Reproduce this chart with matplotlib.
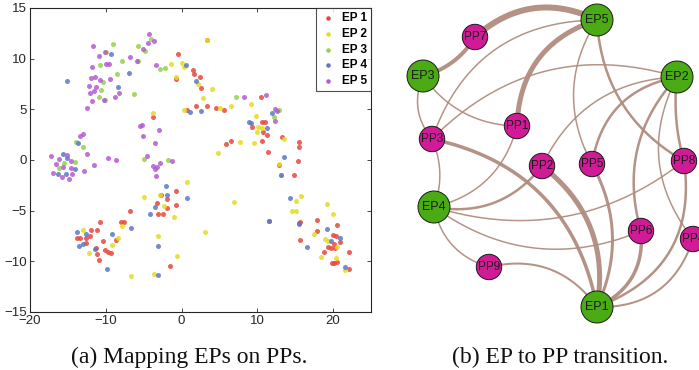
"""Two-panel figure: EP scatter on PP map (a) and EP->PP transition graph (b)."""

import matplotlib
matplotlib.use("Agg")
import matplotlib.pyplot as plt
from matplotlib.patches import Circle
import numpy as np

# ---- panel (a): points per EP ----
ep1_x = [-0.53, -0.79, 1.54, 1.63, 2.42, 2.55, 1.89, 3.3, 4.53, 5.58, 0.66, 10.46, 9.36, 10.55,
         10.99, 10.77, 11.34, 10.64, 11.43, 13.27, 15.52, 15.56, 15.43, 14.9, 12.88, 6.59, 5.85,
         15.47, 15.69, 15.69, 11.56, 17.89, 17.85, 18.77, 19.34, 19.69, 20.13, 20.0, 20.44, 20.53,
         20.22, 20.88, 19.87, 20.18, 20.53, 22.11, 22.11, -3.3, -0.79, -0.79, -2.73, -1.98, -3.08,
         -2.5, -1.98, -3.82, -6.81, -8.04, -7.6, -8.62, -10.77, -11.21, -11.96, -12.09, -12.62,
         -13.41, -13.8, -12.62, -10.42, -11.34, -11.21, -10.9, -10.11, -9.76, -9.36, -1.54, 3.3]
ep1_y = [10.42, 7.98, 8.93, 8.5, 8.18, 7.09, 5.31, 5.34, 5.18, 4.98, 4.95, 6.23, 3.23, 3.76,
         3.76, 2.74, 2.5, 1.85, 0.79, 2.24, 1.78, 1.32, -0.07, -1.52, -0.53, 1.88, 1.58,
         -6.23, -6.07, -7.91, -6.0, -5.9, -6.96, -9.03, -8.57, -8.64, -8.31, -7.39, -7.48, -6.43,
         -8.64, -8.14, -10.12, -10.19, -10.02, -9.03, -10.72, -4.29, -3.1, -4.42, -3.49, -3.82, -5.34,
         -5.34, -4.71, 4.29, -5.04, -6.1, -6.1, -7.88, -6.1, -6.86, -6.86, -7.52, -7.72,
         -7.72, -7.65, -8.21, -7.98, -8.7, -9.3, -9.83, -8.9, -9.03, -9.2, -10.45, 11.87]

ep2_x = [3.3, 0.0, 0.35, -0.79, -1.41, 2.15, 3.96, 2.86, 0.35, 5.05, 6.59, 9.1, 9.89, 10.15,
         10.64, 10.02, 7.69, 9.58, 13.54, 4.84, 12.88, 0.66, 6.95, 3.12, 15.74, 15.16, 14.64,
         15.16, 19.21, 20.0, 17.49, 18.99, 19.3, 20.57, 20.44, 18.37, 21.58, -4.92, -2.86, -2.29,
         -0.97, -0.57, -3.12, -3.6, -6.73, -3.74, -7.82, -8.44, -9.23, -12.97, -12.26]
ep2_y = [11.87, 9.59, 9.17, 8.24, 9.46, 7.52, 7.02, 6.13, 4.95, 5.11, 5.31, 5.51, 4.39, 3.3,
         3.17, 2.8, 1.75, 1.68, 2.08, 0.73, -0.4, -2.14, -4.12, -7.06, -3.56, -4.02, -5.08,
         -5.08, -4.35, -5.37, -7.32, -7.75, -8.04, -8.54, -9.66, -9.56, -10.81, -3.69, -3.49, -4.58,
         -5.67, -9.46, -7.48, -11.21, -11.47, 4.65, -6.5, -7.68, -8.41, -6.86, -9.17]

ep3_x = [-9.01, -5.8, -4.09, -4.79, -5.71, -10.81, -9.93, -7.87, -8.48, -10.33, -10.64, -10.9,
         -10.07, -6.29, -2.86, -2.2, 7.21, 12.22, 12.88, -13.98, -12.97, -14.07, -15.52, -16.13,
         -4.97, -1.76, 13.1]
ep3_y = [11.41, 11.24, 11.9, 10.72, 9.76, 9.33, 10.65, 9.76, 8.44, 7.68, 6.86, 6.26,
         5.93, 6.53, 9.0, 9.07, 6.2, 4.29, 4.91, 1.75, 1.25, -0.2, -0.33, -0.82,
         0.13, 0.03, -1.45]

ep4_x = [-15.08, -9.36, -6.95, -8.35, 0.53, 1.93, 1.1, 2.55, 8.92, 9.14, 11.34, 11.91, 13.54,
         13.1, 14.29, 15.47, 16.53, 11.56, 19.21, 19.74, 20.88, 21.63, -2.07, -1.98, 0.75, -3.56,
         -4.13, -3.16, -3.16, -6.68, -9.14, -9.89, -13.85, -13.54, -12.97, -12.62, -11.43, -13.67,
         -15.69, -15.08, -16.35, -15.3, -14.07]
ep4_y = [7.81, 10.45, 8.61, 7.19, 9.4, 7.75, 4.78, 4.88, 3.79, 3.63, 3.17, 4.62, 0.33,
         -1.52, -3.79, -6.33, -8.54, -6.0, -6.79, -8.04, -7.68, -10.52, -2.57, -3.43, -3.76, -4.68,
         -5.34, -8.47, -11.37, -6.73, -7.32, -10.75, -7.06, -8.51, -8.31, -7.32, -8.74, 1.68,
         0.59, 0.2, -1.38, -1.38, -0.92]

ep5_x = [-11.65, -10.95, -11.78, -11.96, -11.43, -12.18, -11.3, -11.52, -12.09, -11.82, -12.44,
         -10.77, -10.07, -9.98, -9.63, -9.45, -10.2, -8.75, -8.22, -6.77, -5.93, -5.1, -4.35, -4.4,
         -3.69, -3.34, 8.26, 11.08, 12.35, 12.62, 12.35, -5.49, -5.27, -5.14, -3.52, -2.99, -4.62,
         -3.82, -3.52, -3.21, -3.43, -2.86, -1.27, -13.41, -13.01, -12.48, -12.88, -11.56, -9.76,
         -8.7, -17.27, -16.57, -16.13, -16.92, -15.78, -15.69, -15.16, -14.86, -14.55, -14.51, -14.59]
ep5_y = [11.24, 10.22, 9.17, 8.08, 8.18, 7.32, 7.22, 6.79, 6.66, 5.8, 5.14,
         7.85, 10.65, 9.5, 9.5, 8.01, 5.9, 6.26, 6.59, 10.16, 9.73, 10.91, 12.4, 11.54,
         11.7, 9.33, 6.2, 6.46, 5.01, 4.81, 3.89, 3.36, 3.49, 2.41, 1.65, 3.0, 0.43,
         -0.59, -0.86, -0.73, -1.58, -0.26, -0.07, 2.41, 2.54, 0.59, -1.12, -0.49, 0.2,
         0.0, 0.43, -0.4, 0.13, -1.25, -1.71, -0.73, 0.53, -1.88, -0.82, -1.42, -0.07]

ep_labels = ["EP 1", "EP 2", "EP 3", "EP 4", "EP 5"]
ep_colors = ["#e8463c", "#e4dc22", "#94d04a", "#5a78c8", "#b45ad2"]

# ---- panel (b): graph nodes (pixel-like layout units) and weighted edges ----
node_names = ["EP1", "EP2", "EP3", "EP4", "EP5",
              "PP1", "PP2", "PP3", "PP4", "PP5", "PP6", "PP7", "PP8", "PP9"]
node_x = [597, 677, 423, 434, 597, 517, 542, 432, 693, 592, 641, 475, 684, 489]
node_y = [307, 77, 76, 207, 20, 126, 166, 139, 239, 164, 231, 37, 161, 267]

# (from, to, weight, bend)
edges = [
    ("EP3", "PP7", 4.0, 0.2), ("PP7", "EP5", 6.0, -0.33), ("EP5", "PP1", 5.0, 0.35),
    ("EP5", "PP3", 1.5, 0.35), ("EP5", "PP5", 1.5, 0.29), ("EP5", "PP8", 2.5, 0.27),
    ("EP3", "PP1", 1.5, 0.25), ("EP3", "PP3", 1.5, 0.3), ("EP2", "PP3", 1.5, 0.3),
    ("EP2", "PP2", 1.5, 0.3), ("EP2", "PP5", 2.5, 0.35), ("EP2", "PP6", 2.5, 0.28),
    ("EP2", "PP8", 2.5, 0.1), ("EP2", "PP4", 1.5, 0.32), ("EP4", "PP1", 1.5, 0.3),
    ("EP4", "PP2", 2.5, 0.3), ("EP4", "PP8", 1.5, 0.26), ("EP4", "PP6", 1.5, 0.28),
    ("EP4", "PP9", 1.5, 0.3), ("PP3", "EP4", 1.5, -0.2), ("PP3", "EP1", 3.5, -0.33),
    ("PP2", "EP1", 5.0, -0.3), ("PP5", "EP1", 3.0, -0.25), ("PP6", "EP1", 3.5, -0.35),
    ("PP8", "EP1", 2.5, -0.4), ("PP4", "EP1", 2.0, -0.37), ("PP9", "EP1", 2.0, -0.33),
]

fig = plt.figure(figsize=(6.99, 3.70), dpi=100)

# ---------- (a) scatter ----------
ax = fig.add_axes([30 / 699, 58 / 370, 341 / 699, 304 / 370])
series = [(ep1_x, ep1_y), (ep2_x, ep2_y), (ep3_x, ep3_y), (ep4_x, ep4_y), (ep5_x, ep5_y)]
for (xs, ys), lab, col in zip(series, ep_labels, ep_colors):
    ax.scatter(xs, ys, s=13, color=col, alpha=0.85, linewidths=0, label=lab)

ax.set_xlim(-20, 25)
ax.set_ylim(-15, 15)
ax.set_xticks([-20, -10, 0, 10, 20])
ax.set_yticks([-15, -10, -5, 0, 5, 10, 15])
ax.tick_params(direction="in", top=True, right=True, length=3, width=0.6,
               labelsize=9.5, colors="#262626", pad=2.5)
for lbl in ax.get_xticklabels() + ax.get_yticklabels():
    lbl.set_family("Liberation Sans")
for sp in ax.spines.values():
    sp.set_linewidth(0.8)
    sp.set_color("#262626")

leg = ax.legend(loc="upper right", bbox_to_anchor=(1.0, 1.0), borderaxespad=0,
                fancybox=False, frameon=True, markerscale=0.9, handletextpad=0.6,
                labelspacing=0.32, borderpad=0.35, handlelength=1.2,
                prop={"family": "Liberation Sans", "weight": "bold", "size": 8.5})
leg.get_frame().set_edgecolor("#262626")
leg.get_frame().set_linewidth(0.8)
for h in leg.legend_handles:
    h.set_alpha(1.0)

# ---------- (b) graph ----------
gx = fig.add_axes([370 / 699, 40 / 370, 329 / 699, 330 / 370])
gx.set_xlim(370, 699)
gx.set_ylim(330, 0)
gx.set_axis_off()

pos = {n: (x, y) for n, x, y in zip(node_names, node_x, node_y)}
t = np.linspace(0, 1, 60)
for a, b, w, bend in edges:
    (x1, y1), (x2, y2) = pos[a], pos[b]
    mx, my = (x1 + x2) / 2, (y1 + y2) / 2
    cx, cy = mx - bend * (y2 - y1), my + bend * (x2 - x1)
    bx = (1 - t) ** 2 * x1 + 2 * (1 - t) * t * cx + t ** 2 * x2
    by = (1 - t) ** 2 * y1 + 2 * (1 - t) * t * cy + t ** 2 * y2
    gx.plot(bx, by, color="#b08c7e", lw=w * 0.72, alpha=0.95,
            solid_capstyle="round", zorder=1)

for n in node_names:
    x, y = pos[n]
    is_ep = n.startswith("EP")
    r = 16 if is_ep else 12.7
    fc = "#4aab14" if is_ep else "#d01a96"
    gx.add_patch(Circle((x, y), r, facecolor=fc, edgecolor="#1a1a1a",
                        linewidth=0.7, zorder=2, clip_on=False))
    gx.text(x, y, n, ha="center", va="center", fontsize=9 if is_ep else 8.5,
            family="Liberation Sans", color="#1a1a1a", zorder=3)

# ---------- captions ----------
fig.text(189 / 699, 7 / 370, "(a) Mapping EPs on PPs.", ha="center", va="baseline",
         family="Liberation Serif", fontsize=17, color="#111111")
fig.text(560 / 699, 7 / 370, "(b) EP to PP transition.", ha="center", va="baseline",
         family="Liberation Serif", fontsize=17, color="#111111")

fig.savefig("out.png", dpi=100)
